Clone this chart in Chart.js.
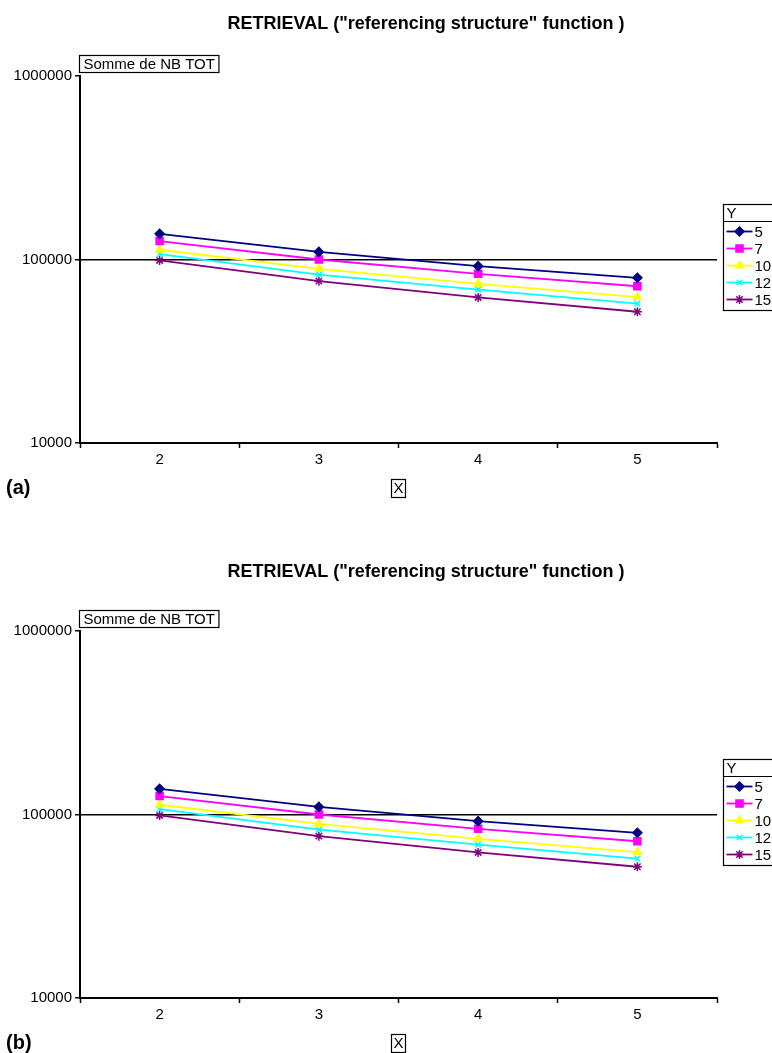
<!DOCTYPE html>
<html><head><meta charset="utf-8">
<script src="https://cdn.jsdelivr.net/npm/chart.js@4.4.1/dist/chart.umd.min.js"></script>
<style>
html,body{margin:0;padding:0;background:#fff;width:772px;height:1053px;overflow:hidden}
canvas{position:absolute;left:0}
#c1{top:0}
#c2{top:555px}
</style></head><body>
<canvas id="c1" width="772" height="555" style="width:772px;height:555px"></canvas>
<canvas id="c2" width="772" height="498" style="width:772px;height:498px"></canvas>
<script>
// ---- data ----
const categories = ['2', '3', '4', '5'];
const seriesNames = ['5', '7', '10', '12', '15'];
const y5  = [138000, 110000, 92000, 79500];
const y7  = [126000, 100000, 83600, 71500];
const y10 = [113000, 89000, 73700, 62300];
const y12 = [107000, 82800, 68600, 57500];
const y15 = [98800, 76200, 62100, 51900];
const yTicks = [10000, 100000, 1000000];
const titleText = 'RETRIEVAL ("referencing structure" function )';
const fieldLabel = 'Somme de NB TOT';
const xAxisLabel = 'X';
const legendTitle = 'Y';
const panelLabels = ['(a)', '(b)'];

// ---- styles ----
const FONT = '"Liberation Sans", Arial, Helvetica, sans-serif';
const colors = ['#000080', '#FF00FF', '#FFFF00', '#00FFFF', '#800080'];
const pStyles = ['rectRot', 'rect', 'triangle', 'crossRot', 'star'];
const pRadius = [4.5, 5, 4.5, 4, 4.5];
const seriesValues = [y5, y7, y10, y12, y15];

function makeDatasets() {
  return seriesNames.map((n, i) => ({
    label: n,
    data: seriesValues[i],
    borderColor: colors[i],
    backgroundColor: colors[i],
    pointBackgroundColor: colors[i],
    pointBorderColor: colors[i],
    pointStyle: pStyles[i],
    pointRadius: pRadius[i],
    pointBorderWidth: 1.5,
    borderWidth: 1.8,
    tension: 0,
    fill: false
  }));
}

const overlay = {
  id: 'overlay',
  afterDraw(chart, args, opts) {
    const ctx = chart.ctx;
    const a = chart.chartArea;
    ctx.save();
    ctx.fillStyle = '#000';
    ctx.strokeStyle = '#000';
    // title
    ctx.font = 'bold 18px ' + FONT;
    ctx.textAlign = 'center';
    ctx.textBaseline = 'middle';
    ctx.fillText(titleText, 426, opts.titleY);
    // field button
    ctx.font = '15px ' + FONT;
    ctx.textAlign = 'left';
    const fw = ctx.measureText(fieldLabel).width;
    ctx.lineWidth = 1.2;
    ctx.strokeRect(79.5, 55.5, fw + 8, 17);
    ctx.fillText(fieldLabel, 83.5, 64.5);
    // legend
    const lx = 723.5, ly = 204.5;
    const ds = chart.data.datasets;
    ctx.lineWidth = 1.2;
    ctx.strokeRect(lx, ly, 60, 17 + ds.length * 17 + 4);
    ctx.beginPath(); ctx.moveTo(lx, ly + 17); ctx.lineTo(lx + 60, ly + 17); ctx.stroke();
    ctx.fillText(legendTitle, lx + 3, ly + 9);
    ds.forEach((d, i) => {
      const cy = ly + 17 + 10 + i * 17;
      ctx.strokeStyle = d.borderColor;
      ctx.fillStyle = d.borderColor;
      ctx.lineWidth = 1.8;
      ctx.beginPath(); ctx.moveTo(lx + 3, cy); ctx.lineTo(lx + 29, cy); ctx.stroke();
      ctx.lineWidth = 1.5;
      Chart.helpers.drawPoint(ctx, {pointStyle: d.pointStyle, rotation: 0, radius: d.pointRadius, borderWidth: 1.5}, lx + 16, cy);
      ctx.fillStyle = '#000';
      ctx.fillText(d.label, lx + 31, cy + 1);
    });
    // x axis title box
    ctx.fillStyle = '#000'; ctx.strokeStyle = '#000';
    ctx.textAlign = 'center';
    const xw = ctx.measureText(xAxisLabel).width;
    const xc = (a.left + a.right) / 2;
    ctx.fillText(xAxisLabel, xc, 489);
    ctx.lineWidth = 1.2;
    ctx.strokeRect(Math.round(xc - xw / 2 - 2) + 0.5, 479.5, Math.round(xw + 4), 18);
    // panel label
    ctx.font = 'bold 20px ' + FONT;
    ctx.textAlign = 'left';
    ctx.fillText(opts.panel, 6, 488);
    ctx.restore();
  }
};

function makeChart(id, H, panel, titleY) {
  return new Chart(document.getElementById(id), {
    type: 'line',
    data: {labels: categories, datasets: makeDatasets()},
    plugins: [overlay],
    options: {
      responsive: false,
      animation: false,
      devicePixelRatio: 1,
      layout: {padding: {left: 0, top: 76, right: 55, bottom: H - 443 - 30}},
      plugins: {
        legend: {display: false},
        tooltip: {enabled: false},
        title: {display: false},
        overlay: {titleY: titleY, panel: panel}
      },
      scales: {
        x: {
          type: 'category',
          offset: true,
          grid: {offset: true, drawOnChartArea: false, drawTicks: true, tickLength: 5, tickColor: '#000', tickWidth: 1.5, color: '#000'},
          border: {color: '#000', width: 2},
          ticks: {color: '#000', font: {family: FONT, size: 15}, padding: 3, maxRotation: 0, autoSkip: false},
          afterFit(s) { s.height = 30; }
        },
        y: {
          type: 'logarithmic',
          min: 10000,
          max: 1000000,
          afterBuildTicks(s) { s.ticks = yTicks.map(v => ({value: v})); },
          ticks: {color: '#000', font: {family: FONT, size: 15}, padding: 3, callback: v => String(v)},
          grid: {
            color: c => (c.tick && c.tick.value === 100000) ? '#000' : 'rgba(0,0,0,0)',
            lineWidth: 1.5, drawTicks: true, tickLength: 5, tickColor: '#000'
          },
          border: {color: '#000', width: 2},
          afterFit(s) { s.width = 80; }
        }
      }
    }
  });
}
makeChart('c1', 555, panelLabels[0], 24);
makeChart('c2', 498, panelLabels[1], 17);
</script>
</body></html>
